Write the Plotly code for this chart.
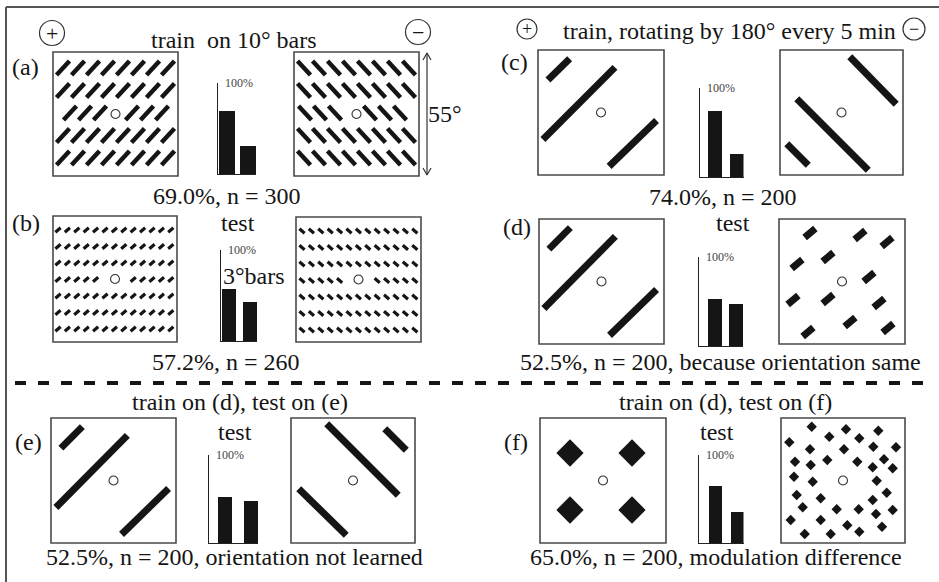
import math
import plotly.graph_objects as go

W, H = 939, 582

# ---- values ----
panels = ["(a)", "(b)", "(c)", "(d)", "(e)", "(f)"]
choice_plus = [69.0, 57.2, 74.0, 52.5, 52.5, 65.0]    # % of choices for the (+) pattern
choice_minus = [31.0, 42.8, 26.0, 47.5, 47.5, 35.0]   # % of choices for the (-) pattern
n_trials = [300, 260, 200, 200, 200, 200]
remarks = ["", "", "", "because orientation same", "orientation not learned", "modulation difference"]
bar_names = ["+", "\u2212"]
headers = ["train\u00a0 on 10\u00b0 bars", "train, rotating by 180\u00b0 every 5 min",
           "train on (d), test on (e)", "train on (d), test on (f)"]

FONT = "Times New Roman, Liberation Serif, DejaVu Serif, serif"
INK = "#151515"
FRAME = "#4a4a4a"

# pixel geometry of each mini bar chart: axis x, bar centres, bar width, top, bottom
CHART = {
    "(a)": (218, 227, 248, 16, 83, 174),
    "(b)": (221, 229, 250, 14, 250, 341),
    "(c)": (700, 715, 736.5, 14, 88, 177),
    "(d)": (699, 714.5, 736, 14, 257, 346),
    "(e)": (209, 225, 251, 14, 455, 543),
    "(f)": (699, 715.5, 737, 13, 455, 543),
}
# stimulus squares (x0, y0, x1, y1) for the + and - pattern
SQUARES = {
    "(a)": [(53, 52, 178, 176), (294, 52, 419, 176)],
    "(b)": [(53, 216, 177, 342), (296, 217, 421, 342)],
    "(c)": [(538, 50, 664, 175), (780, 50, 903, 175)],
    "(d)": [(539, 219, 664, 344), (779, 219, 905, 344)],
    "(e)": [(51, 418, 176, 543), (291, 418, 415, 543)],
    "(f)": [(540, 418, 666, 543), (781, 418, 905, 543)],
}
# label / caption / "test" positions
LABEL_POS = {"(a)": (25, 67), "(b)": (26, 223), "(c)": (514, 62),
             "(d)": (517, 227), "(e)": (28, 442), "(f)": (516, 442)}
CAPTION_POS = {"(a)": (227, 196), "(b)": (226, 362), "(c)": (723, 197),
               "(d)": (720, 362), "(e)": (234, 557), "(f)": (716, 557)}
TEST_POS = {"(b)": (238, 223), "(d)": (733, 223), "(e)": (235, 432), "(f)": (717, 432)}
HEADER_POS = [(234, 40), (729, 31), (240, 402), (725, 402)]

fig = go.Figure()

# ---------- stimulus drawings (on a pixel-coordinate base axis) ----------
def seg(cx, cy, half, ang, sign):
    dx = half * math.cos(math.radians(ang))
    dy = half * math.sin(math.radians(ang))
    return [(cx - dx, cy + sign * dy), (cx + dx, cy - sign * dy)]


def add_strokes(segs, width):
    xs, ys = [], []
    for (p, q) in segs:
        xs += [p[0], q[0], None]
        ys += [p[1], q[1], None]
    fig.add_trace(go.Scatter(x=xs, y=ys, mode="lines", hoverinfo="skip", showlegend=False,
                             line=dict(color=INK, width=width)))


def rel(box, u, v):
    x0, y0, x1, y1 = box
    return (x0 + u * (x1 - x0), y0 + v * (y1 - y0))


def shrink(p, q, d):
    L = math.hypot(q[0] - p[0], q[1] - p[1])
    ux, uy = (q[0] - p[0]) / L, (q[1] - p[1]) / L
    return ((p[0] + ux * d, p[1] + uy * d), (q[0] - ux * d, q[1] - uy * d))


# (a) oriented bar textures
for k, (box, sign, mid) in enumerate(zip(SQUARES["(a)"], [1, -1],
                                        [[17, 32, 47, 79, 94, 109], [11, 26, 41, 76, 91, 106]])):
    segs = []
    for i in range(5):
        cy = box[1] + 16 + 22.5 * i
        cols = mid if i == 2 else [10 + 15 * j for j in range(8)]
        for c in cols:
            segs.append(seg(box[0] + c, cy, 9.5, 47, sign))
    add_strokes(segs, 4.5)

# (b) dense short bars
for box, sign, off in zip(SQUARES["(b)"], [1, -1], [5, 6]):
    segs = []
    for i in range(7):
        cy = box[1] + 14 + 16.5 * i
        for j in range(13):
            if i == 3 and j in (5, 6, 7):
                continue
            segs.append(seg(box[0] + off + 9.4 * j, cy, 3.4, 40, sign))
    add_strokes(segs, 3.2)

LONG_PLUS = [((0.065, 0.255), (0.265, 0.055)), ((0.025, 0.73), (0.625, 0.125)),
             ((0.55, 0.945), (0.955, 0.55))]
LONG_MINUS_C = [((0.553, 0.04), (0.959, 0.448)), ((0.122, 0.376), (0.732, 0.976)),
                ((0.041, 0.736), (0.244, 0.936))]
LONG_MINUS_E = [((0.274, 0.032), (0.879, 0.632)), ((0.742, 0.072), (0.944, 0.272)),
                ((0.048, 0.552), (0.46, 0.952))]
long_segs = []
for key, pats in [("(c)", [LONG_PLUS, LONG_MINUS_C]), ("(d)", [LONG_PLUS]), ("(e)", [LONG_PLUS, LONG_MINUS_E])]:
    for box, pat in zip(SQUARES[key], pats):
        for p, q in pat:
            long_segs.append(shrink(rel(box, *p), rel(box, *q), 2.5))
# (d) minus: short thick bars
SHORT_D = [(810, 233), (860, 235), (887, 242), (797, 264), (828, 257), (869, 277),
           (793, 300), (828, 299), (879, 303), (850, 322), (808, 332), (888, 328)]
for cx, cy in SHORT_D:
    long_segs.append(seg(cx, cy, 7, 40, 1))
add_strokes(long_segs, 7)

# (f) diamonds
BIG_DIAMONDS = [(570, 453), (632, 453), (570, 510), (632, 510)]
SMALL_DIAMONDS = [(811.7, 426.7), (846, 429.3), (878.3, 430.7), (829.3, 436.7), (859.3, 438.3),
                  (789.3, 442.3), (810, 449.3), (844, 449.3), (873.3, 446.7), (896, 447.3),
                  (827.3, 460), (857.3, 461.7), (884, 459.3), (795, 461.7), (810.7, 465),
                  (872.7, 467.3), (892.7, 468.3), (794, 476.7), (812.7, 481.7), (876.7, 480.7),
                  (796.7, 495), (820.7, 498.3), (886.7, 492.7), (872.7, 500), (802.7, 507.3),
                  (836.7, 509.3), (858.7, 509.3), (876, 514), (892.7, 510), (790.7, 520),
                  (820.7, 520), (847.3, 525.3), (882, 526.7), (804.7, 534), (830.7, 534),
                  (859.3, 531.7)]
for pts, size in [(BIG_DIAMONDS, 21), (SMALL_DIAMONDS, 8)]:
    fig.add_trace(go.Scatter(x=[p[0] for p in pts], y=[p[1] for p in pts], mode="markers",
                             hoverinfo="skip", showlegend=False,
                             marker=dict(symbol="diamond", size=size, color=INK, line_width=0)))

# fixation circles at the centre of every square
fx, fy = [], []
for key in panels:
    for box in SQUARES[key]:
        fx.append((box[0] + box[2]) / 2)
        fy.append((box[1] + box[3]) / 2)
fig.add_trace(go.Scatter(x=fx, y=fy, mode="markers", hoverinfo="skip", showlegend=False,
                         marker=dict(symbol="circle-open", size=9, color="#333", line_width=1.1)))

# 55 deg double arrow
fig.add_trace(go.Scatter(x=[427, 427, None, 423, 427, 431, None, 423, 427, 431],
                         y=[53, 175, None, 60, 53, 60, None, 168, 175, 168], mode="lines",
                         hoverinfo="skip", showlegend=False, line=dict(color="#333", width=1.2)))

shapes = []
for key in panels:
    for (x0, y0, x1, y1) in SQUARES[key]:
        shapes.append(dict(type="rect", xref="x", yref="y", x0=x0, y0=y0, x1=x1, y1=y1,
                           line=dict(color=FRAME, width=1.6)))
# +/- circles
for cx, cy, r in [(52, 33, 12.5), (418, 32, 12.5), (527, 29, 10), (914, 29, 11)]:
    shapes.append(dict(type="circle", xref="x", yref="y", x0=cx - r, x1=cx + r, y0=cy - r, y1=cy + r,
                       line=dict(color="#333", width=1.2)))
# dashed separator and page frame
shapes.append(dict(type="line", xref="x", yref="y", x0=15, x1=935, y0=383, y1=383,
                   line=dict(color=INK, width=4, dash="11px,12px")))
shapes.append(dict(type="line", xref="x", yref="y", x0=6, x1=6, y0=7, y1=H,
                   line=dict(color="#555", width=2)))
shapes.append(dict(type="line", xref="x", yref="y", x0=6, x1=W, y0=7, y1=7,
                   line=dict(color="#555", width=2)))

annotations = []


def text(t, x, y, size=24, **kw):
    annotations.append(dict(text=t, x=x, y=y, xref="x", yref="y", showarrow=False,
                            font=dict(family=FONT, size=size, color=INK), **kw))


for t, (x, y) in zip(headers, HEADER_POS):
    text(t, x, y)
for key in panels:
    text(key, *LABEL_POS[key])
for key in TEST_POS:
    text("test", *TEST_POS[key])
text("55\u00b0", 445, 114)
text("3\u00b0bars", 254, 276)
for s, (cx, cy, fs) in zip(["+", "\u2212", "+", "\u2212"],
                           [(52, 33, 22), (418, 32, 22), (527, 29, 18), (914, 29, 18)]):
    text(s, cx, cy, size=fs)
for key, p, n, rm in zip(panels, choice_plus, n_trials, remarks):
    cap = f"{p:.1f}%, n = {n}" + (f", {rm}" if rm else "")
    text(cap, *CAPTION_POS[key])

# ---------- mini bar charts, each on its own axes ----------
layout_axes = {}
for i, (key, plus, minus) in enumerate(zip(panels, choice_plus, choice_minus)):
    ax, c1, c2, bw, top, bot = CHART[key]
    unit = c2 - c1
    k = i + 2
    fig.add_trace(go.Bar(x=bar_names, y=[plus, minus], xaxis=f"x{k}", yaxis=f"y{k}",
                         width=bw / unit, marker=dict(color=INK, line_width=0), showlegend=False))
    layout_axes[f"xaxis{k}"] = dict(domain=[ax / W, (c2 + bw / 2) / W], anchor=f"y{k}",
                                    range=[(ax - c1) / unit, 1 + bw / 2 / unit], showline=True,
                                    linecolor="#222", linewidth=1.2, showticklabels=False,
                                    ticks="", showgrid=False, zeroline=False, fixedrange=True)
    layout_axes[f"yaxis{k}"] = dict(domain=[1 - bot / H, 1 - top / H], anchor=f"x{k}",
                                    range=[0, 100], showline=True, linecolor="#222", linewidth=1.2,
                                    tickvals=[100], ticks="inside", ticklen=4, tickcolor="#222",
                                    showticklabels=False, showgrid=False, zeroline=False,
                                    fixedrange=True)
    annotations.append(dict(text="100%", x=ax + 5, y=top, xref="x", yref="y", showarrow=False,
                            xanchor="left", font=dict(family=FONT, size=12, color="#444")))

fig.update_layout(
    width=W, height=H, autosize=False,
    margin=dict(l=0, r=0, t=0, b=0, pad=0),
    paper_bgcolor="white", plot_bgcolor="rgba(0,0,0,0)",
    font=dict(family=FONT),
    xaxis=dict(domain=[0, 1], range=[0, W], visible=False, fixedrange=True),
    yaxis=dict(domain=[0, 1], range=[H, 0], visible=False, fixedrange=True),
    shapes=shapes, annotations=annotations, bargap=0,
    **layout_axes,
)

fig.write_html("out.html", config={"displayModeBar": False},
               post_script="document.body.style.margin='0';")
